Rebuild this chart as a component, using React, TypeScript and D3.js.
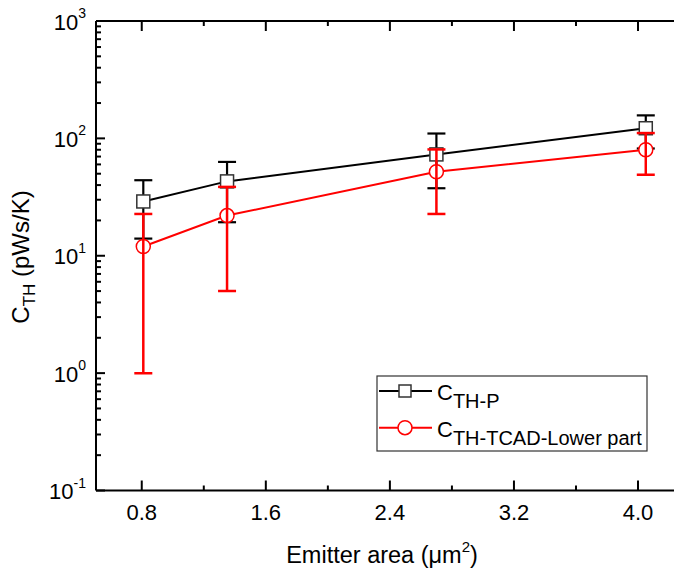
import React from "react";
import * as d3 from "d3";

const areas = [0.81, 1.35, 2.7, 4.05];
const pVals = [29, 43, 73, 122];
const pLow = [14, 19.3, 37.6, 82];
const pHigh = [44, 63, 110, 157];
const tcadVals = [12, 22, 52, 80];
const tcadLow = [1.0, 5.0, 22.7, 49];
const tcadHigh = [22.7, 38.6, 80.5, 111];
const xTicks = [0.8, 1.6, 2.4, 3.2, 4.0];
const xMinor = [1.2, 2.0, 2.8, 3.6];
const yExps = [-1, 0, 1, 2, 3];

const W = 674, H = 569;
const L = 96, R = 683, T = 21, B = 490.5;
const FONT = "'Liberation Sans', Arial, Helvetica, sans-serif";

export default function App() {
  const x = d3.scaleLinear().domain([0.505, 4.29]).range([L, R]);
  const y = d3.scaleLog().domain([0.1, 1000]).range([B, T]);
  const line = d3.line<number>().x((_, i) => x(areas[i])).y((v) => y(v));

  const yMinor: number[] = [];
  for (let e = -1; e < 3; e++) for (let k = 2; k <= 9; k++) yMinor.push(k * Math.pow(10, e));

  const cap = 9;
  const errBars = (lo: number[], hi: number[], color: string, w: number) =>
    areas.map((a, i) => (
      <g key={i} stroke={color} strokeWidth={w}>
        <line x1={x(a)} x2={x(a)} y1={y(lo[i])} y2={y(hi[i])} />
        <line x1={x(a) - cap} x2={x(a) + cap} y1={y(lo[i])} y2={y(lo[i])} />
        <line x1={x(a) - cap} x2={x(a) + cap} y1={y(hi[i])} y2={y(hi[i])} />
      </g>
    ));

  return (
    <svg width={W} height={H} style={{ position: "absolute", left: 0, top: 0, background: "#fff" }} fontFamily={FONT}>
      <defs>
        <clipPath id="plotclip"><rect x={L} y={0} width={W - L} height={B + 5} /></clipPath>
      </defs>
      {/* axes */}
      <g stroke="#000" strokeWidth={2} fill="none">
        <line x1={L} x2={L} y1={T} y2={B} />
        <line x1={L} x2={R} y1={B} y2={B} />
        <line x1={L} x2={R} y1={T} y2={T} />
        {yExps.map((e) => (
          <line key={"ym" + e} x1={L} x2={L + 9} y1={y(Math.pow(10, e))} y2={y(Math.pow(10, e))} />
        ))}
        {yMinor.map((v, i) => (
          <line key={"yn" + i} x1={L} x2={L + 5} y1={y(v)} y2={y(v)} />
        ))}
        {xTicks.map((t) => (
          <g key={"xt" + t}>
            <line x1={x(t)} x2={x(t)} y1={B} y2={B - 10} />
            <line x1={x(t)} x2={x(t)} y1={T} y2={T + 10} />
          </g>
        ))}
        {xMinor.map((t) => (
          <g key={"xn" + t}>
            <line x1={x(t)} x2={x(t)} y1={B} y2={B - 5} />
            <line x1={x(t)} x2={x(t)} y1={T} y2={T + 5} />
          </g>
        ))}
      </g>
      {/* tick labels */}
      {xTicks.map((t) => (
        <text key={"xl" + t} x={x(t)} y={519.5} fontSize={22} textAnchor="middle" fill="#000">
          {t.toFixed(1)}
        </text>
      ))}
      {yExps.map((e) => (
        <text key={"yl" + e} x={86} y={y(Math.pow(10, e)) + 8.5} fontSize={22} textAnchor="end" fill="#000">
          10
          <tspan fontSize={14} dy={-11.5}>{String(e)}</tspan>
        </text>
      ))}
      {/* axis titles */}
      <text x={382} y={563} fontSize={23.5} textAnchor="middle" fill="#000">
        Emitter area (μm<tspan fontSize={15} dy={-11}>2</tspan><tspan dy={11}>)</tspan>
      </text>
      <text transform="translate(29,257) rotate(-90)" fontSize={24} textAnchor="middle" fill="#000">
        C<tspan fontSize={17} dy={6}>TH</tspan><tspan dy={-6}> (pWs/K)</tspan>
      </text>
      {/* series */}
      <g clipPath="url(#plotclip)">
        <path d={line(pVals) || ""} fill="none" stroke="#000" strokeWidth={2} />
        {errBars(pLow, pHigh, "#000", 2.2)}
        {areas.map((a, i) => (
          <rect key={"sq" + i} x={x(a) - 6.5} y={y(pVals[i]) - 6.5} width={13} height={13} fill="#fff" stroke="#333" strokeWidth={1.5} />
        ))}
        <path d={line(tcadVals) || ""} fill="none" stroke="#ff0000" strokeWidth={2} />
        {areas.map((a, i) => (
          <circle key={"ci" + i} cx={x(a)} cy={y(tcadVals[i])} r={7} fill="#fff" stroke="#ff0000" strokeWidth={1.5} />
        ))}
        {errBars(tcadLow, tcadHigh, "#ff0000", 2.5)}
      </g>
      {/* legend */}
      <rect x={377} y={376} width={270} height={75} fill="#fff" stroke="#333" strokeWidth={1.2} />
      <line x1={379} x2={432} y1={391} y2={391} stroke="#000" strokeWidth={2} />
      <rect x={399} y={385} width={12} height={12} fill="#fff" stroke="#333" strokeWidth={1.5} />
      <text x={437} y={400} fontSize={22} fill="#000">
        C<tspan fontSize={20} dy={8}>TH-P</tspan>
      </text>
      <line x1={379} x2={432} y1={427.7} y2={427.7} stroke="#ff0000" strokeWidth={2} />
      <circle cx={405} cy={427.7} r={7} fill="#fff" stroke="#ff0000" strokeWidth={1.5} />
      <text x={437} y={437} fontSize={22} fill="#000">
        C<tspan fontSize={20} dy={8}>TH-TCAD-Lower part</tspan>
      </text>
    </svg>
  );
}
